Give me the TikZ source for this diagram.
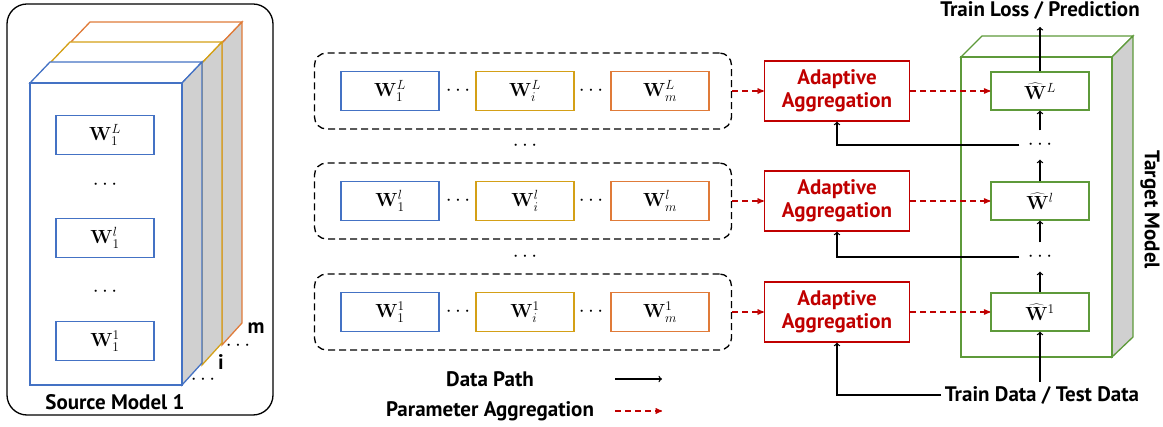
\RequirePackage{fix-cm}
\documentclass[tikz,border=0pt]{standalone}
\usepackage[no-math]{fontspec}
\setmainfont{PT Sans}
\usepackage{tikz}
\usetikzlibrary{arrows}

\definecolor{wblue}{HTML}{4472C4}
\definecolor{wgold}{HTML}{D4A017}
\definecolor{worange}{HTML}{E07B39}
\definecolor{wgreen}{HTML}{5E9A3A}
\definecolor{wred}{HTML}{C00000}
\definecolor{wgray}{HTML}{D0D0D0}

\begin{document}
\begin{tikzpicture}[x=1pt,y=-1pt,line width=1.3pt,
                    font=\bfseries\fontsize{21}{23}\selectfont]
  \tikzstyle{wbox}=[draw,fill=white,minimum width=98pt,minimum height=39pt,inner sep=0pt,
                    font=\fontsize{19}{22}\selectfont]
  \tikzstyle{group}=[draw,dash pattern=on 7pt off 4pt,rounded corners=12pt,
                     minimum width=417pt,minimum height=76pt]
  \tikzstyle{agg}=[draw=wred,text=wred,minimum width=145pt,minimum height=60pt,
                   align=center,inner sep=0pt]
  \tikzstyle{hatbox}=[draw=wgreen,fill=white,minimum width=98pt,minimum height=38pt,inner sep=0pt,
                      font=\fontsize{19}{22}\selectfont]
  \tikzstyle{tdots}=[minimum width=40pt,minimum height=28pt,inner sep=0pt]
  \tikzstyle{datapath}=[-to,black]
  \tikzstyle{parampath}=[-stealth',wred,dash pattern=on 6pt off 4pt]

  \useasboundingbox (0,0) rectangle (1163,427);

  % source model
  \draw[rounded corners=20pt] (7,4) rectangle (273,415);
  \foreach \c/\d in {worange/40,wgold/20,wblue/0} {
    \begin{scope}[shift={(\d,-\d)}]
      \filldraw[draw=\c,fill=white] (30,83) -- (50,62) -- (202,62) -- (182,83) -- cycle;
      \filldraw[draw=\c,fill=wgray] (182,83) -- (202,62) -- (202,363) -- (182,385) -- cycle;
    \end{scope}
  }
  \node[draw=wblue,fill=white,minimum width=152pt,minimum height=302pt] (src) at (106,234) {};
  \node[wbox,draw=wblue] (s1L) at (105,135) {$\mathbf{W}_1^L$};
  \node (sdA) at (105,185) {$\cdots$};
  \node[wbox,draw=wblue] (s1l) at (105,238) {$\mathbf{W}_1^l$};
  \node (sdB) at (105,292) {$\cdots$};
  \node[wbox,draw=wblue] (s11) at (105,341) {$\mathbf{W}_1^1$};
  \node (srclabel) at (115,402) {Source Model 1};
  \node (si) at (221,362) {i};
  \node (sm) at (256,328) {m};
  \node (sdC) at (203,380) {$\cdots$};
  \node (sdD) at (238,346) {$\cdots$};

  % target model
  \filldraw[draw=wgreen,fill=white] (961,57) -- (982,36) -- (1133,36) -- (1112,57) -- cycle;
  \filldraw[draw=wgreen,fill=wgray] (1112,57) -- (1133,36) -- (1133,337) -- (1112,357) -- cycle;
  \node[draw=wgreen,fill=white,minimum width=151pt,minimum height=300pt] (tgt) at (1036.5,207) {};
  \node[rotate=-90] (tgtlabel) at (1150,210) {Target Model};

  % layers
  \foreach \r/\y in {L/91,l/201,1/312} {
    \node[group] (grp\r) at (523,\y) {};
    \node[wbox,draw=wblue] (w1\r) at (390,\y) {$\mathbf{W}_1^{\r}$};
    \node (da\r) at (458,\y) {$\cdots$};
    \node[wbox,draw=wgold] (wi\r) at (525,\y) {$\mathbf{W}_i^{\r}$};
    \node (db\r) at (591,\y) {$\cdots$};
    \node[wbox,draw=worange] (wm\r) at (660,\y) {$\mathbf{W}_m^{\r}$};
    \node[agg] (agg\r) at (837,\y) {Adaptive\\Aggregation};
    \node[hatbox] (hat\r) at (1040,\y) {$\widehat{\mathbf{W}}{}^{\r}$};
    \path[parampath] (grp\r) edge (agg\r)
                     (agg\r) edge (hat\r);
  }
  \node (rdA) at (525,146) {$\cdots$};
  \node (rdB) at (525,257) {$\cdots$};
  \node[tdots] (tdA) at (1040,145) {$\cdots$};
  \node[tdots] (tdB) at (1040,257) {$\cdots$};

  \node (loss) at (1040,10) {Train Loss / Prediction};
  \node (data) at (1042,395) {Train Data / Test Data};

  \path[datapath] (hatL) edge[shorten >=4pt] (loss)
                  (tdA) edge (hatL)
                  (hatl) edge (tdA)
                  (tdB) edge (hatl)
                  (hat1) edge (tdB)
                  (data.north -| hat1) edge (hat1);
  \draw[datapath] (tdA) -| (aggL);
  \draw[datapath] (tdB) -| (aggl);
  \draw[datapath] (data) -| (agg1);

  % legend
  \node (lgdata) at (490,379) {Data Path};
  \node (lgparam) at (490,411) {Parameter Aggregation};
  \coordinate (lgA) at (615,379);
  \coordinate (lgB) at (662,379);
  \coordinate (lgC) at (615,411);
  \coordinate (lgD) at (662,411);
  \path[datapath] (lgA) edge (lgB);
  \path[parampath] (lgC) edge (lgD);
\end{tikzpicture}
\end{document}
